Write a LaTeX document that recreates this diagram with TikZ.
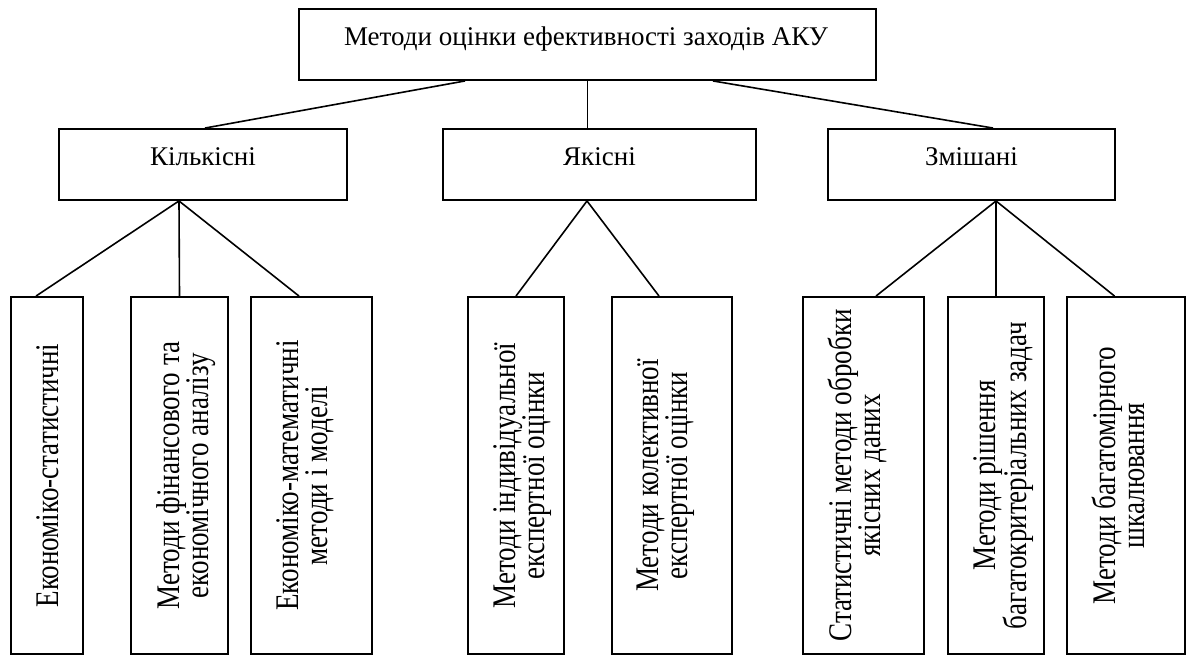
\documentclass[tikz,border=0pt]{standalone}
\usepackage{fontspec}
\setmainfont{Liberation Serif}
\newfontfamily\condfont{Liberation Serif}[FakeStretch=0.82]
\begin{document}
\begin{tikzpicture}[x=1pt,y=-1pt,
  box/.style={draw, line width=1.9pt, inner sep=0pt},
  conn/.style={line width=1.6pt},
  lbl/.style={font=\fontsize{27}{34}\selectfont, inner sep=0pt},
  vlbl/.style={font=\condfont\fontsize{33}{29}\selectfont, inner sep=0pt, rotate=90, anchor=north, align=center}]
\useasboundingbox (0,0) rectangle (1188,657);
% top
\node[box, minimum width=577pt, minimum height=71pt] (top) at (587.5,44.5) {};
\node[lbl, anchor=base] (topt) at (586,45) {Методи оцінки ефективності заходів АКУ};
% second row
\node[box, minimum width=288pt, minimum height=71pt] (kil) at (203,164.5) {};
\node[box, minimum width=313pt, minimum height=71pt] (yak) at (599.5,164.5) {};
\node[box, minimum width=287pt, minimum height=71pt] (zmi) at (971.5,164.5) {};
\node[lbl, anchor=base] (kilt) at (203,165) {Кількісні};
\node[lbl, anchor=base] (yakt) at (599.5,165) {Якісні};
\node[lbl, anchor=base] (zmit) at (971.5,165) {Змішані};
% bottom row
\foreach \n/\cx/\w in {k1/47/72, k2/179.5/97, k3/311.5/121, y1/516/96, y2/672/120, z1/863.5/121, z2/996/96, z3/1126/118}
  \node[box, minimum width=\w pt, minimum height=357pt] (\n) at (\cx,475.5) {};
\node[vlbl] (k1t) at ([xshift=26pt]k1.west) {Економіко-статистичні};
\node[vlbl] (k2t) at ([xshift=26pt]k2.west) {Методи фінансового та\\економічного аналізу};
\node[vlbl] (k3t) at ([xshift=26pt]k3.west) {Економіко-математичні\\методи і моделі};
\node[vlbl] (y1t) at ([xshift=26pt]y1.west) {Методи індивідуальної\\експертної оцінки};
\node[vlbl] (y2t) at ([xshift=26pt]y2.west) {Методи колективної\\експертної оцінки};
\node[vlbl] (z1t) at ([xshift=26pt]z1.west) {Статистичні методи обробки\\якісних даних};
\node[vlbl] (z2t) at ([xshift=26pt]z2.west) {Методи рішення\\багатокритеріальних задач};
\node[vlbl] (z3t) at ([xshift=26pt]z3.west) {Методи багатомірного\\шкалювання};
% connectors
\draw[conn] ([xshift=-122.5pt]top.south) -- ([xshift=2pt]kil.north);
\draw[conn] (top.south) -- (top.south |- yak.north);
\draw[conn] ([xshift=125.5pt]top.south) -- ([xshift=21.5pt]zmi.north);
\coordinate (kb) at ([xshift=-24pt]kil.south);
\coordinate (yb) at ([xshift=-12.5pt]yak.south);
\coordinate (zb) at ([xshift=24.5pt]zmi.south);
\draw[conn] (kb) -- ([xshift=-11pt]k1.north);
\draw[conn] (kb) -- (k2.north);
\draw[conn] (kb) -- ([xshift=-12.5pt]k3.north);
\draw[conn] (yb) -- (y1.north);
\draw[conn] (yb) -- ([xshift=-13pt]y2.north);
\draw[conn] (zb) -- ([xshift=12.5pt]z1.north);
\draw[conn] (zb) -- (z2.north);
\draw[conn] (zb) -- ([xshift=-11.5pt]z3.north);
\end{tikzpicture}
\end{document}
